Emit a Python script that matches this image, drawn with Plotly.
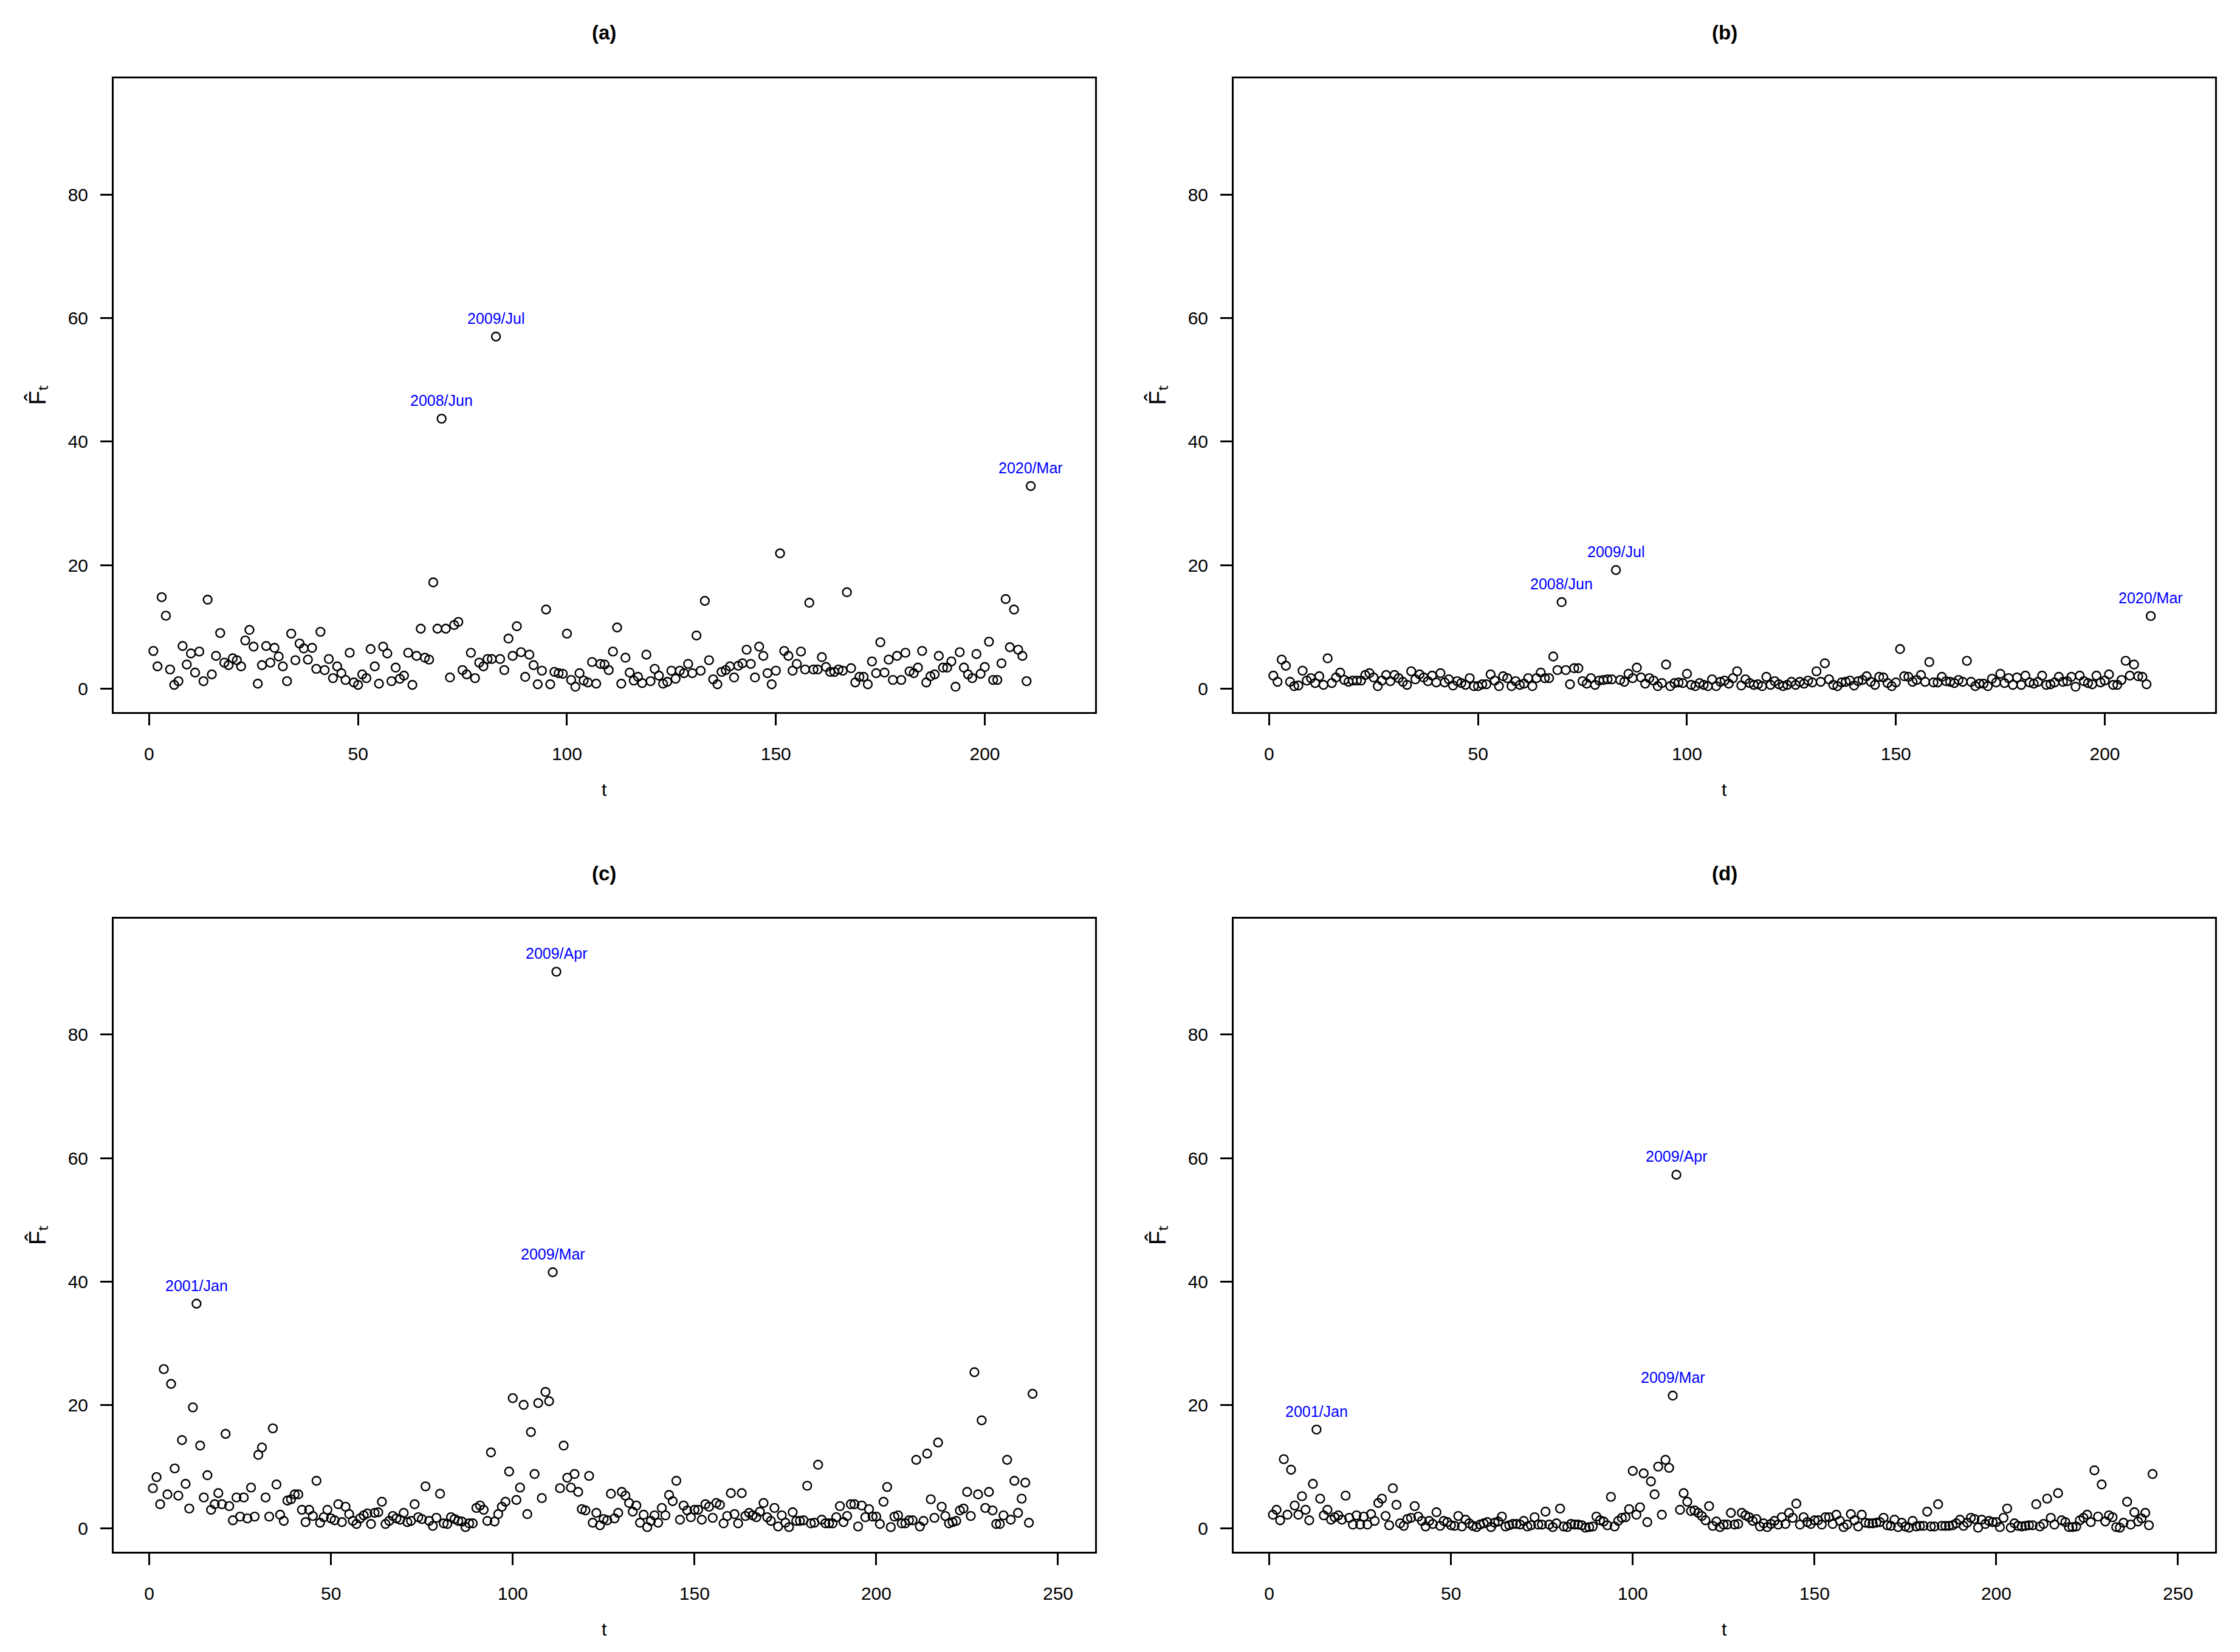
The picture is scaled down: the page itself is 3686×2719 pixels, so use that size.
import plotly.graph_objects as go

# ---------------- data ----------------
F_a = [6.1, 3.6, 14.8, 11.8, 3.1, 0.6, 1.2, 6.9, 3.9, 5.7, 2.6, 6.0, 1.2, 14.4, 2.3, 5.3, 9.0, 4.2, 3.8, 4.9,
       4.6, 3.6, 7.8, 9.5, 6.8, 0.8, 3.8, 6.9, 4.2, 6.6, 5.2, 3.6, 1.2, 8.9, 4.6, 7.3, 6.5, 4.7, 6.6, 3.2,
       9.2, 3.0, 4.8, 1.7, 3.6, 2.5, 1.4, 5.8, 1.0, 0.6, 2.3, 1.7, 6.4, 3.6, 0.8, 6.8, 5.7, 1.2, 3.4, 1.6,
       2.1, 5.8, 0.6, 5.3, 9.7, 5.0, 4.7, 17.2, 9.7, 43.7, 9.7, 1.8, 10.3, 10.8, 3.0, 2.3, 5.8, 1.7, 4.2, 3.6,
       4.8, 4.8, 57.0, 4.8, 3.0, 8.1, 5.3, 10.1, 5.9, 1.9, 5.5, 3.8, 0.7, 2.9, 12.8, 0.7, 2.7, 2.5, 2.4, 8.9,
       1.4, 0.3, 2.5, 1.3, 1.0, 4.3, 0.8, 4.0, 3.9, 3.0, 6.0, 9.9, 0.8, 5.0, 2.6, 1.3, 1.9, 0.9, 5.5, 1.2,
       3.2, 2.1, 0.8, 1.1, 2.9, 1.6, 2.9, 2.5, 4.0, 2.5, 8.6, 2.9, 14.2, 4.6, 1.5, 0.7, 2.7, 3.0, 3.6, 1.8,
       3.7, 4.1, 6.3, 4.0, 1.8, 6.8, 5.3, 2.5, 0.7, 2.9, 21.9, 6.1, 5.3, 2.9, 4.0, 6.0, 3.1, 13.9, 3.1, 3.1,
       5.1, 3.5, 2.7, 2.7, 3.1, 2.9, 15.6, 3.3, 1.0, 1.9, 1.9, 0.7, 4.4, 2.5, 7.5, 2.6, 4.7, 1.4, 5.3, 1.4,
       5.8, 2.8, 2.5, 3.4, 6.1, 1.0, 2.0, 2.3, 5.3, 3.4, 3.4, 4.4, 0.3, 5.9, 3.4, 2.3, 1.7, 5.6, 2.4, 3.5,
       7.6, 1.4, 1.4, 4.1, 14.5, 6.7, 12.8, 6.3, 5.3, 1.2, 32.8]

F_b = [2.1, 1.1, 4.7, 3.7, 1.1, 0.4, 0.5, 2.9, 1.3, 1.7, 0.9, 2.0, 0.6, 4.9, 0.9, 1.8, 2.6, 1.4, 1.1, 1.3,
       1.3, 1.3, 2.2, 2.5, 1.8, 0.4, 1.3, 2.2, 1.2, 2.2, 1.7, 1.1, 0.6, 2.8, 1.5, 2.3, 1.8, 1.2, 2.1, 1.0,
       2.5, 1.0, 1.5, 0.5, 1.2, 0.9, 0.6, 1.7, 0.4, 0.4, 0.7, 0.7, 2.3, 1.3, 0.4, 2.0, 1.7, 0.4, 1.2, 0.6,
       0.8, 1.7, 0.4, 1.7, 2.6, 1.7, 1.7, 5.2, 3.0, 14.0, 3.0, 0.7, 3.3, 3.3, 1.2, 0.8, 1.7, 0.6, 1.3, 1.4,
       1.5, 1.5, 19.2, 1.4, 1.1, 2.4, 1.7, 3.4, 1.8, 0.8, 1.7, 1.3, 0.4, 0.9, 3.9, 0.4, 0.9, 1.0, 0.9, 2.4,
       0.6, 0.4, 0.9, 0.6, 0.4, 1.5, 0.4, 1.1, 1.3, 0.8, 1.7, 2.8, 0.5, 1.5, 0.9, 0.6, 0.7, 0.4, 1.9, 0.6,
       1.2, 0.7, 0.4, 0.6, 1.1, 0.6, 1.1, 0.8, 1.3, 1.0, 2.8, 1.1, 4.1, 1.5, 0.6, 0.4, 1.0, 1.1, 1.3, 0.5,
       1.2, 1.4, 2.0, 1.1, 0.6, 1.9, 1.8, 0.9, 0.4, 1.0, 6.4, 2.0, 1.9, 1.1, 1.4, 2.2, 1.1, 4.3, 1.0, 1.0,
       1.9, 1.2, 1.1, 0.9, 1.4, 1.1, 4.5, 1.1, 0.4, 0.8, 0.8, 0.4, 1.6, 1.0, 2.4, 0.9, 1.7, 0.6, 1.8, 0.6,
       2.1, 1.0, 0.8, 1.1, 2.1, 0.6, 0.7, 1.0, 1.9, 1.1, 1.2, 1.9, 0.3, 2.1, 1.2, 0.9, 0.7, 2.1, 1.0, 1.3,
       2.3, 0.6, 0.6, 1.4, 4.5, 2.1, 3.9, 2.0, 1.9, 0.7, 11.75]

F_c = [6.5, 8.3, 3.9, 25.8, 5.5, 23.4, 9.7, 5.3, 14.3, 7.2, 3.2, 19.6, 36.4, 13.4, 5.0, 8.6, 3.0, 3.9, 5.7, 3.9,
       15.3, 3.6, 1.3, 5.0, 1.9, 5.0, 1.6, 6.6, 1.9, 11.9, 13.1, 5.0, 1.9, 16.2, 7.1, 2.2, 1.2, 4.5, 4.7, 5.5,
       5.5, 3.0, 1.0, 3.0, 2.0, 7.7, 0.9, 1.8, 3.0, 1.6, 1.3, 3.9, 1.0, 3.5, 2.3, 1.2, 0.7, 1.6, 2.1, 2.4,
       0.7, 2.5, 2.6, 4.3, 0.7, 1.2, 2.0, 1.6, 1.4, 2.5, 1.0, 1.2, 3.9, 1.8, 1.5, 6.8, 1.2, 0.4, 1.7, 5.6,
       0.8, 0.7, 1.8, 1.5, 1.2, 1.1, 0.2, 0.8, 0.8, 3.3, 3.7, 3.0, 1.2, 12.3, 1.1, 2.3, 3.5, 4.3, 9.2, 21.1,
       4.6, 6.6, 20.0, 2.3, 15.6, 8.8, 20.3, 4.9, 22.1, 20.6, 41.5, 90.2, 6.5, 13.4, 8.2, 6.6, 8.8, 5.9, 3.1, 2.9,
       8.5, 0.9, 2.5, 0.5, 1.5, 1.3, 5.6, 1.6, 2.5, 5.9, 5.3, 4.1, 2.7, 3.7, 0.9, 2.2, 0.2, 1.2, 2.1, 0.9,
       3.3, 2.1, 5.4, 4.4, 7.7, 1.4, 3.7, 2.9, 1.8, 3.0, 3.0, 1.4, 3.9, 3.5, 1.7, 4.1, 3.8, 0.8, 2.0, 5.7,
       2.3, 0.8, 5.7, 2.0, 2.5, 2.1, 1.8, 2.7, 4.1, 1.8, 1.2, 3.3, 0.3, 2.1, 0.9, 0.2, 2.6, 1.2, 1.2, 1.3,
       6.9, 0.8, 0.9, 10.3, 1.4, 0.8, 0.8, 0.8, 1.8, 3.6, 1.0, 2.0, 3.9, 3.9, 0.3, 3.7, 1.8, 3.1, 1.9, 1.9,
       0.7, 4.3, 6.7, 0.2, 1.9, 2.1, 0.8, 0.8, 1.3, 1.3, 11.1, 0.3, 1.2, 12.1, 4.7, 1.7, 13.9, 3.5, 2.0, 0.8,
       1.0, 1.2, 2.9, 3.2, 5.9, 2.0, 25.3, 5.5, 17.5, 3.3, 5.9, 2.9, 0.7, 0.7, 2.1, 11.1, 1.4, 7.7, 2.5, 4.8,
       7.4, 0.9, 21.8]

F_d = [2.2, 3.0, 1.3, 11.2, 2.2, 9.5, 3.7, 2.2, 5.2, 3.0, 1.3, 7.2, 16.0, 4.8, 2.1, 3.0, 1.4, 1.8, 2.1, 1.4,
       5.3, 1.7, 0.6, 2.1, 0.6, 1.9, 0.6, 2.3, 1.2, 4.1, 4.8, 2.0, 0.5, 6.5, 3.8, 0.8, 0.4, 1.5, 1.7, 3.6,
       1.9, 1.2, 0.3, 1.2, 0.7, 2.6, 0.4, 1.2, 1.0, 0.5, 0.4, 2.0, 0.3, 1.4, 0.8, 0.4, 0.2, 0.6, 0.8, 1.0,
       0.2, 0.9, 1.1, 1.9, 0.3, 0.5, 0.7, 0.7, 0.6, 1.2, 0.3, 0.5, 1.8, 0.6, 0.6, 2.7, 0.6, 0.2, 0.8, 3.2,
       0.3, 0.2, 0.7, 0.6, 0.6, 0.5, 0.1, 0.2, 0.3, 1.9, 1.3, 1.1, 0.5, 5.1, 0.3, 1.2, 1.7, 1.8, 3.1, 9.3,
       2.2, 3.4, 8.9, 1.0, 7.6, 5.5, 10.0, 2.2, 11.1, 9.8, 21.5, 57.3, 3.0, 5.7, 4.3, 2.8, 2.9, 2.5, 2.0, 1.3,
       3.6, 0.4, 1.1, 0.2, 0.6, 0.6, 2.5, 0.6, 0.7, 2.5, 2.1, 1.8, 1.2, 1.5, 0.3, 0.8, 0.2, 0.7, 1.2, 0.6,
       1.8, 0.7, 2.5, 1.7, 4.0, 0.6, 1.8, 1.0, 0.7, 1.3, 1.3, 0.6, 1.8, 1.8, 0.7, 2.2, 1.2, 0.2, 0.6, 2.3,
       1.3, 0.3, 2.2, 0.9, 0.8, 0.8, 0.9, 1.0, 1.7, 0.5, 0.4, 1.4, 0.2, 0.9, 0.3, 0.1, 1.2, 0.3, 0.4, 0.4,
       2.7, 0.3, 0.3, 3.9, 0.4, 0.4, 0.4, 0.5, 0.8, 1.4, 0.4, 0.9, 1.7, 1.5, 0.1, 1.4, 0.7, 1.2, 1.0, 1.0,
       0.2, 1.7, 3.2, 0.1, 0.8, 0.4, 0.3, 0.4, 0.5, 0.5, 3.9, 0.3, 0.7, 4.8, 1.7, 0.6, 5.7, 1.3, 1.0, 0.2,
       0.2, 0.3, 1.3, 1.7, 2.2, 1.0, 9.4, 1.9, 7.1, 1.1, 2.1, 1.8, 0.2, 0.1, 0.9, 4.3, 0.6, 2.6, 1.1, 1.6,
       2.5, 0.5, 8.8]

t_ab = list(range(1, len(F_a) + 1))
t_cd = list(range(1, len(F_c) + 1))

# labelled outliers: (index t, label)
lab_ab = [(70, "2008/Jun"), (83, "2009/Jul"), (211, "2020/Mar")]
lab_cd = [(13, "2001/Jan"), (111, "2009/Mar"), (112, "2009/Apr")]

panel_titles = ["(a)", "(b)", "(c)", "(d)"]
xticks_ab = [0, 50, 100, 150, 200]
xticks_cd = [0, 50, 100, 150, 200, 250]
yticks = [0, 20, 40, 60, 80]
ylabel = "F\u0302\u209c"   # F-hat with subscript t

# ---------------- layout geometry ----------------
W, H = 3686, 2719
FONT = "Liberation Sans, Arial, Helvetica, sans-serif"
col_px = [(179, 1794), (2022, 3637)]
row_px = [(121, 1164), (1504, 2546)]

def xdom(c):
    return [col_px[c][0] / W, col_px[c][1] / W]

def ydom(r):
    return [1 - row_px[r][1] / H, 1 - row_px[r][0] / H]

panels = [
    (t_ab, F_a, lab_ab, 0, 0, xticks_ab, [-8.5, 226.4]),
    (t_ab, F_b, lab_ab, 0, 1, xticks_ab, [-8.5, 226.4]),
    (t_cd, F_c, lab_cd, 1, 0, xticks_cd, [-9.8, 260.2]),
    (t_cd, F_d, lab_cd, 1, 1, xticks_cd, [-9.8, 260.2]),
]

fig = go.Figure()
annotations = []
layout = dict(
    width=W, height=H, autosize=False,
    margin=dict(l=0, r=0, t=0, b=0),
    paper_bgcolor="white", plot_bgcolor="white",
    showlegend=False,
    font=dict(family=FONT, size=30, color="black"),
)

for i, (tt, vv, labs, r, c, xt, xr) in enumerate(panels):
    n = i + 1
    xa = "x" if n == 1 else f"x{n}"
    ya = "y" if n == 1 else f"y{n}"
    fig.add_trace(go.Scatter(
        x=tt, y=vv, mode="markers", xaxis=xa, yaxis=ya,
        marker=dict(symbol="circle-open", size=14, color="black",
                    line=dict(width=2.4, color="black")),
        hoverinfo="x+y",
    ))
    axcommon = dict(showgrid=False, zeroline=False, showline=True, mirror=True,
                    linecolor="black", linewidth=3, ticks="outside", ticklen=19,
                    tickwidth=3, tickcolor="black",
                    tickfont=dict(family=FONT, size=30, color="black"))
    layout["xaxis" if n == 1 else f"xaxis{n}"] = dict(
        domain=xdom(c), anchor=ya, range=xr, tickmode="array", tickvals=xt,
        ticklabelstandoff=21, **axcommon)
    layout["yaxis" if n == 1 else f"yaxis{n}"] = dict(
        domain=ydom(r), anchor=xa, range=[-3.8, 98.8], tickmode="array", tickvals=yticks,
        ticklabelstandoff=14, **axcommon)

    x0, x1 = col_px[c]
    y0, y1 = row_px[r]
    # panel title
    annotations.append(dict(
        text=f"<b>{panel_titles[i]}</b>", xref="paper", yref="paper",
        x=(x0 + x1) / 2 / W, y=1 - (y0 - 75) / H, xanchor="center", yanchor="middle",
        showarrow=False, font=dict(family=FONT, size=33, color="black")))
    # x axis title
    annotations.append(dict(
        text="t", xref="paper", yref="paper",
        x=(x0 + x1) / 2 / W, y=1 - (y1 + 127) / H, xanchor="center", yanchor="middle",
        showarrow=False, font=dict(family=FONT, size=30, color="black")))
    # y axis title
    annotations.append(dict(
        text=ylabel, xref="paper", yref="paper",
        x=(x0 - 126) / W, y=1 - ((y0 + y1) / 2) / H, xanchor="center", yanchor="middle",
        textangle=-90, showarrow=False, font=dict(family=FONT, size=38, color="black")))
    # outlier labels
    for (k, lab) in labs:
        annotations.append(dict(
            text=lab, x=tt[k - 1], y=vv[k - 1], xref=xa, yref=ya,
            xanchor="center", yanchor="bottom", yshift=14, showarrow=False,
            font=dict(family=FONT, size=25, color="#0000FF")))

layout["annotations"] = annotations
fig.update_layout(**layout)
fig.write_html("out.html")
